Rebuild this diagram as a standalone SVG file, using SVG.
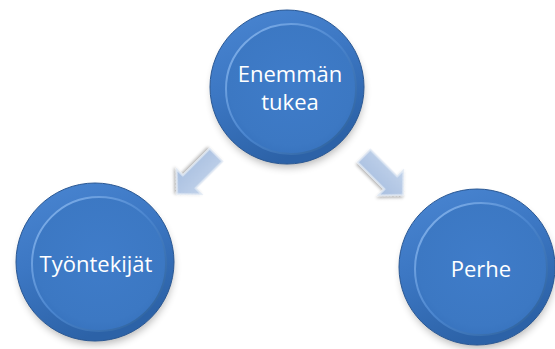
<svg xmlns="http://www.w3.org/2000/svg" width="555" height="349" viewBox="0 0 555 349">
<style>
.lbl{font-family:"Open Sans","Liberation Sans",sans-serif;font-size:22px;fill:#ffffff;text-anchor:middle}
.outer{fill:url(#ringG);stroke:#2a5894;stroke-width:1}
.inner{fill:url(#bodyG);stroke:url(#rimG);stroke-width:2}
.shadow{fill:#000;opacity:0.3;filter:url(#blur)}
.arrow{fill:url(#arrG);stroke:#dfe8f4;stroke-width:1.5;filter:url(#ash)}
</style>
<defs>
<filter id="blur" x="-30%" y="-30%" width="160%" height="160%"><feGaussianBlur stdDeviation="4"/></filter>
<filter id="ash" x="-30%" y="-30%" width="160%" height="160%"><feDropShadow dx="1" dy="2" stdDeviation="1.5" flood-color="#000" flood-opacity="0.3"/></filter>
<linearGradient id="ringG" x1="0" y1="0" x2="0.4" y2="1">
<stop offset="0" stop-color="#4a86d2"/><stop offset="0.5" stop-color="#3c77c3"/><stop offset="1" stop-color="#2c62a7"/>
</linearGradient>
<radialGradient id="bodyG" cx="0.5" cy="0.45" r="0.6">
<stop offset="0" stop-color="#3f7cc9"/><stop offset="0.8" stop-color="#3c78c3"/><stop offset="1" stop-color="#3671bc"/>
</radialGradient>
<linearGradient id="rimG" x1="0" y1="0.2" x2="0.8" y2="1">
<stop offset="0" stop-color="#7eaee8"/><stop offset="0.5" stop-color="#4a85cf"/><stop offset="1" stop-color="#30649f"/>
</linearGradient>
<linearGradient id="arrG" x1="0" y1="0" x2="0" y2="1">
<stop offset="0" stop-color="#c1d2ea"/><stop offset="1" stop-color="#a8bfe0"/>
</linearGradient>
</defs>
<g id="connectors">
<polygon class="arrow" transform="translate(216,155) rotate(135)" points="0,-9 38,-9 38,-17.5 55,0 38,17.5 38,9 0,9"/>
<polygon class="arrow" transform="translate(364,156) rotate(45)" points="0,-9 38,-9 38,-17.5 55,0 38,17.5 38,9 0,9"/>
</g>
<g id="node-top">
<circle class="shadow" cx="288" cy="92" r="75"/>
<circle class="outer" cx="287" cy="87" r="77"/>
<circle class="inner" cx="291" cy="89" r="65"/>
<text class="lbl" x="290" y="82">Enemmän</text>
<text class="lbl" x="290" y="110">tukea</text>
</g>
<g id="node-left">
<circle class="shadow" cx="96" cy="267" r="77"/>
<circle class="outer" cx="95" cy="262" r="79"/>
<circle class="inner" cx="99" cy="264" r="67"/>
<text class="lbl" x="96" y="272">Työntekijät</text>
</g>
<g id="node-right">
<circle class="shadow" cx="478" cy="272" r="76"/>
<circle class="outer" cx="477" cy="267" r="78"/>
<circle class="inner" cx="481" cy="269" r="66"/>
<text class="lbl" x="481" y="277">Perhe</text>
</g>
</svg>
